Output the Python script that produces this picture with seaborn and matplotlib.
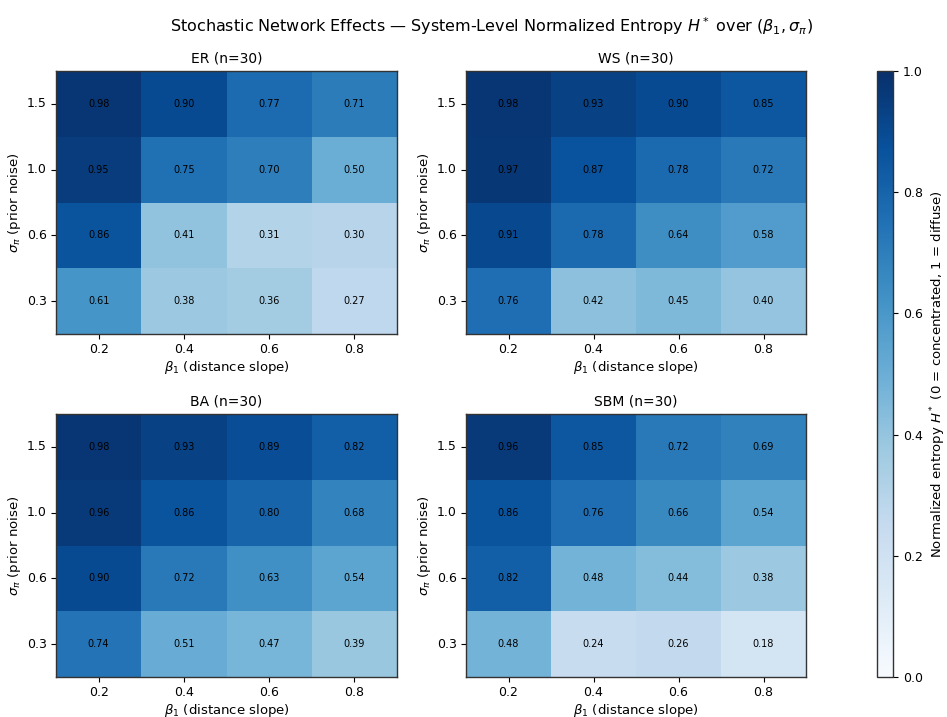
import numpy as np
import pandas as pd
import matplotlib
matplotlib.use("Agg")
import matplotlib.pyplot as plt
import seaborn as sns

# Grid axes
beta1 = [0.2, 0.4, 0.6, 0.8]
sigma_pi = [1.5, 1.0, 0.6, 0.3]          # top row to bottom row

# Normalized entropy H* per network model (rows follow sigma_pi, columns follow beta1)
er_vals = [[0.98, 0.90, 0.77, 0.71],
           [0.95, 0.75, 0.70, 0.50],
           [0.86, 0.41, 0.31, 0.30],
           [0.61, 0.38, 0.36, 0.27]]
ws_vals = [[0.98, 0.93, 0.90, 0.85],
           [0.97, 0.87, 0.78, 0.72],
           [0.91, 0.78, 0.64, 0.58],
           [0.76, 0.42, 0.45, 0.40]]
ba_vals = [[0.98, 0.93, 0.89, 0.82],
           [0.96, 0.86, 0.80, 0.68],
           [0.90, 0.72, 0.63, 0.54],
           [0.74, 0.51, 0.47, 0.39]]
sbm_vals = [[0.96, 0.85, 0.72, 0.69],
            [0.86, 0.76, 0.66, 0.54],
            [0.82, 0.48, 0.44, 0.38],
            [0.48, 0.24, 0.26, 0.18]]

models = ["ER", "WS", "BA", "SBM"]
n_nodes = 30
panels = [er_vals, ws_vals, ba_vals, sbm_vals]

fig = plt.figure(figsize=(9.47, 7.17), dpi=100)

W, H = 947, 717
def frac(x0, y0, x1, y1):
    return [x0 / W, 1 - y1 / H, (x1 - x0) / W, (y1 - y0) / H]

boxes = [frac(56, 71, 397, 334), frac(466, 71, 806, 334),
         frac(56, 414, 397, 677), frac(466, 414, 806, 677)]
cax = fig.add_axes(frac(877, 71, 893, 677))

first_ax = None
for i, (name, vals, box) in enumerate(zip(models, panels, boxes)):
    ax = fig.add_axes(box)
    if first_ax is None:
        first_ax = ax
    df = pd.DataFrame(vals, index=sigma_pi, columns=beta1)
    sns.heatmap(df, ax=ax, cmap="Blues", vmin=0, vmax=1,
                annot=True, fmt=".2f",
                annot_kws={"size": 7, "color": "black"},
                cbar=(i == 0), cbar_ax=cax if i == 0 else None,
                cbar_kws={"label": r"Normalized entropy $H^*$ (0 = concentrated, 1 = diffuse)"})
    for sp in ax.spines.values():
        sp.set_visible(True)
        sp.set_color("#333333")
        sp.set_linewidth(1.0)
    ax.set_xticklabels([f"{b:.1f}" for b in beta1], rotation=0)
    ax.set_yticklabels([f"{s:.1f}" for s in sigma_pi], rotation=0)
    ax.tick_params(axis="both", length=3.5, width=0.8, labelsize=9, pad=3)
    ax.set_xlabel(r"$\beta_1$ (distance slope)", fontsize=9.5, labelpad=2)
    ax.set_ylabel(r"$\sigma_\pi$ (prior noise)", fontsize=9.5, labelpad=3)
    ax.set_title(f"{name} (n={n_nodes})", fontsize=10, pad=6)

cb = first_ax.collections[0].colorbar
cb.outline.set_visible(True)
cb.outline.set_linewidth(1.0)
cb.outline.set_edgecolor("#333333")
cb.set_ticks([0.0, 0.2, 0.4, 0.6, 0.8, 1.0])
cb.ax.tick_params(labelsize=9, length=3.5)
cb.ax.yaxis.label.set_size(9.5)

fig.suptitle(r"Stochastic Network Effects — System-Level Normalized Entropy $H^*$ over $(\beta_1, \sigma_\pi)$",
             fontsize=11.5, x=0.519, y=0.978)

fig.savefig("out.png", dpi=100)
